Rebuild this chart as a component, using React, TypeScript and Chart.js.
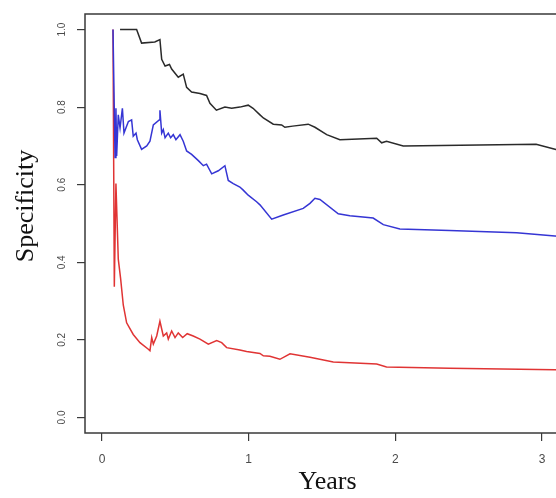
import React, { useEffect, useRef } from "react";
import { Chart, registerables } from "chart.js";

Chart.register(...registerables);

const X_TICKS = [0, 1, 2, 3];
const Y_TICKS = [0, 0.2, 0.4, 0.6, 0.8, 1.0];
const X_TITLE = "Years";
const Y_TITLE = "Specificity";

const blackX = [0.123, 0.236, 0.27, 0.36, 0.395, 0.407, 0.43, 0.46, 0.475, 0.52, 0.554, 0.577, 0.611, 0.668, 0.713, 0.736, 0.78, 0.838, 0.884, 0.94, 0.997, 1.03, 1.077, 1.1, 1.168, 1.225, 1.247, 1.3, 1.406, 1.452, 1.532, 1.622, 1.873, 1.907, 1.94, 2.054, 2.96, 3.095, 3.2];
const blackY = [1.0, 1.0, 0.965, 0.968, 0.974, 0.923, 0.906, 0.91, 0.898, 0.877, 0.885, 0.851, 0.839, 0.835, 0.83, 0.81, 0.792, 0.8, 0.797, 0.8, 0.805, 0.797, 0.78, 0.772, 0.756, 0.754, 0.748, 0.751, 0.756, 0.748, 0.729, 0.716, 0.72, 0.708, 0.712, 0.7, 0.704, 0.691, 0.685];

const blueX = [0.075, 0.089, 0.095, 0.1, 0.111, 0.123, 0.139, 0.15, 0.18, 0.202, 0.213, 0.232, 0.241, 0.27, 0.305, 0.327, 0.35, 0.39, 0.395, 0.407, 0.418, 0.43, 0.452, 0.468, 0.486, 0.504, 0.532, 0.554, 0.577, 0.611, 0.657, 0.691, 0.713, 0.748, 0.793, 0.838, 0.861, 0.895, 0.94, 0.963, 0.997, 1.054, 1.077, 1.157, 1.236, 1.372, 1.418, 1.452, 1.486, 1.611, 1.69, 1.849, 1.918, 2.031, 2.37, 2.827, 3.088, 3.2];
const blueY = [1.0, 0.67, 0.797, 0.674, 0.78, 0.746, 0.797, 0.733, 0.763, 0.767, 0.725, 0.733, 0.716, 0.691, 0.7, 0.712, 0.754, 0.767, 0.792, 0.733, 0.742, 0.721, 0.733, 0.721, 0.729, 0.716, 0.729, 0.712, 0.687, 0.678, 0.662, 0.649, 0.653, 0.628, 0.636, 0.649, 0.611, 0.603, 0.594, 0.586, 0.573, 0.556, 0.548, 0.511, 0.522, 0.539, 0.552, 0.565, 0.562, 0.525, 0.52, 0.514, 0.497, 0.486, 0.482, 0.476, 0.468, 0.464];

const redX = [0.075, 0.084, 0.095, 0.111, 0.127, 0.145, 0.168, 0.213, 0.259, 0.316, 0.327, 0.339, 0.35, 0.373, 0.395, 0.418, 0.441, 0.452, 0.475, 0.498, 0.52, 0.55, 0.581, 0.622, 0.668, 0.725, 0.782, 0.816, 0.85, 0.94, 0.986, 1.077, 1.1, 1.145, 1.213, 1.282, 1.418, 1.577, 1.873, 1.94, 2.37, 3.088, 3.2];
const redY = [1.0, 0.337, 0.603, 0.408, 0.358, 0.29, 0.244, 0.214, 0.193, 0.176, 0.172, 0.206, 0.189, 0.21, 0.248, 0.21, 0.218, 0.202, 0.223, 0.206, 0.218, 0.206, 0.216, 0.21, 0.202, 0.189, 0.198, 0.193, 0.18, 0.174, 0.17, 0.165, 0.159, 0.158, 0.15, 0.164, 0.155, 0.143, 0.138, 0.13, 0.127, 0.123, 0.122];

const toPoints = (xs: number[], ys: number[]) => xs.map((x, i) => ({ x, y: ys[i] }));

const boxAndTitles = {
  id: "boxAndTitles",
  afterDatasetsDraw(chart: any) {
    const { ctx, chartArea } = chart;
    ctx.save();
    ctx.strokeStyle = "#3a3a3a";
    ctx.lineWidth = 1.5;
    ctx.strokeRect(chartArea.left, chartArea.top, chartArea.right - chartArea.left, chartArea.bottom - chartArea.top);
    ctx.fillStyle = "#111";
    ctx.font = '26px "Liberation Serif", "DejaVu Serif", serif';
    ctx.textAlign = "center";
    ctx.textBaseline = "alphabetic";
    ctx.fillText(X_TITLE, (chartArea.left + chartArea.right) / 2, 489);
    ctx.translate(33, 206);
    ctx.rotate(-Math.PI / 2);
    ctx.fillText(Y_TITLE, 0, 0);
    ctx.restore();
  },
};

export default function App() {
  const ref = useRef<HTMLCanvasElement>(null);
  useEffect(() => {
    if (!ref.current) return;
    const chart = new Chart(ref.current, {
      type: "line",
      data: {
        datasets: [
          { data: toPoints(blackX, blackY), borderColor: "#2a2a2a", borderWidth: 1.5, pointRadius: 0, tension: 0 },
          { data: toPoints(blueX, blueY), borderColor: "#3535d4", borderWidth: 1.5, pointRadius: 0, tension: 0 },
          { data: toPoints(redX, redY), borderColor: "#e03434", borderWidth: 1.5, pointRadius: 0, tension: 0 },
        ],
      },
      plugins: [boxAndTitles],
      options: {
        animation: false,
        responsive: false,
        parsing: true,
        layout: { padding: { top: 7, right: 30, left: 0, bottom: 0 } },
        plugins: { legend: { display: false }, tooltip: { enabled: false } },
        scales: {
          x: {
            type: "linear",
            min: -0.1159,
            max: 3.191,
            afterBuildTicks: (s: any) => { s.ticks = X_TICKS.map((v) => ({ value: v })); },
            afterFit: (s: any) => { s.height = 65; },
            border: { display: false },
            grid: { drawOnChartArea: false, drawTicks: true, tickLength: 8, color: "#3a3a3a", lineWidth: 1.2 },
            ticks: {
              padding: 11,
              color: "#4a4a4a",
              font: { family: '"Liberation Sans", Arial, sans-serif', size: 12 },
              maxRotation: 0,
              minRotation: 0,
              callback: (v: any) => String(v),
            },
          },
          y: {
            type: "linear",
            min: -0.04,
            max: 1.04,
            afterBuildTicks: (s: any) => { s.ticks = Y_TICKS.map((v) => ({ value: v })); },
            afterFit: (s: any) => { s.width = 85; },
            border: { display: false },
            grid: { drawOnChartArea: false, drawTicks: true, tickLength: 8, color: "#3a3a3a", lineWidth: 1.2 },
            ticks: {
              padding: 8,
              crossAlign: "center",
              minRotation: 90,
              maxRotation: 90,
              color: "#4a4a4a",
              font: { family: '"Liberation Sans", Arial, sans-serif', size: 10 },
              callback: (v: any) => Number(v).toFixed(1),
            },
          },
        },
      },
    });
    return () => chart.destroy();
  }, []);
  return (
    <div style={{ position: "absolute", left: 0, top: 0, width: 556, height: 498, overflow: "hidden", background: "#fff" }}>
      <canvas ref={ref} width={600} height={498} style={{ display: "block", width: 600, height: 498 }} />
    </div>
  );
}
